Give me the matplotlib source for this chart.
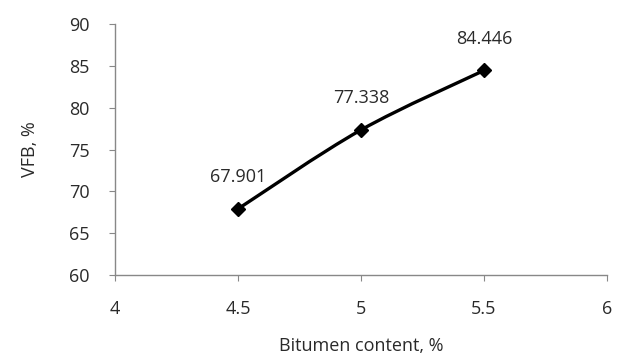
import matplotlib
matplotlib.use("Agg")
import matplotlib.pyplot as plt
from matplotlib.path import Path
from matplotlib.patches import PathPatch
import numpy as np

bitumen = [4.5, 5.0, 5.5]
vfb = [67.901, 77.338, 84.446]
x_ticks = [4, 4.5, 5, 5.5, 6]
x_tick_labels = ["4", "4.5", "5", "5.5", "6"]
y_ticks = [60, 65, 70, 75, 80, 85, 90]

plt.rcParams["font.family"] = ["Open Sans", "DejaVu Sans"]
TXT = "#2a2a2a"
FS = 13

fig = plt.figure(figsize=(6.26, 3.56), dpi=100)
ax = fig.add_axes([0.1837, 0.2275, 0.7859, 0.7051])

# Smoothed line through the points (cubic Bezier segments, Catmull-Rom style)
pts = np.column_stack([bitumen, vfb])
t = 1.0 / 6.0
verts = [pts[0]]
codes = [Path.MOVETO]
for i in range(len(pts) - 1):
    p0 = pts[i - 1] if i > 0 else pts[i]
    p1, p2 = pts[i], pts[i + 1]
    p3 = pts[i + 2] if i + 2 < len(pts) else pts[i + 1]
    c1 = p1 + (p2 - p0) * t
    c2 = p2 - (p3 - p1) * t
    verts += [c1, c2, p2]
    codes += [Path.CURVE4] * 3
ax.add_patch(PathPatch(Path(verts, codes), facecolor="none", edgecolor="black", lw=2.4, zorder=3))
ax.plot(bitumen, vfb, linestyle="none", marker="D", markersize=7.5, color="black", zorder=4)

for x, y in zip(bitumen, vfb):
    ax.annotate(f"{y:.3f}", (x, y), xytext=(0, 23), textcoords="offset points",
                ha="center", va="center", fontsize=FS, color=TXT)

ax.set_xlim(4, 6)
ax.set_ylim(60, 90)
ax.set_xticks(x_ticks)
ax.set_xticklabels(x_tick_labels)
ax.set_yticks(y_ticks)
for s in ["top", "right"]:
    ax.spines[s].set_visible(False)
for s in ["left", "bottom"]:
    ax.spines[s].set_color("#888888")
    ax.spines[s].set_linewidth(1.0)
ax.tick_params(axis="both", direction="out", length=4, color="#888888",
               labelsize=FS, labelcolor=TXT)
ax.tick_params(axis="x", pad=14)
ax.tick_params(axis="y", pad=14)
ax.set_xlabel("Bitumen content, %", fontsize=FS, color=TXT, labelpad=14)
ax.set_ylabel("VFB, %", fontsize=FS, color=TXT, labelpad=22)

fig.savefig("out.png", dpi=100, facecolor="white")
